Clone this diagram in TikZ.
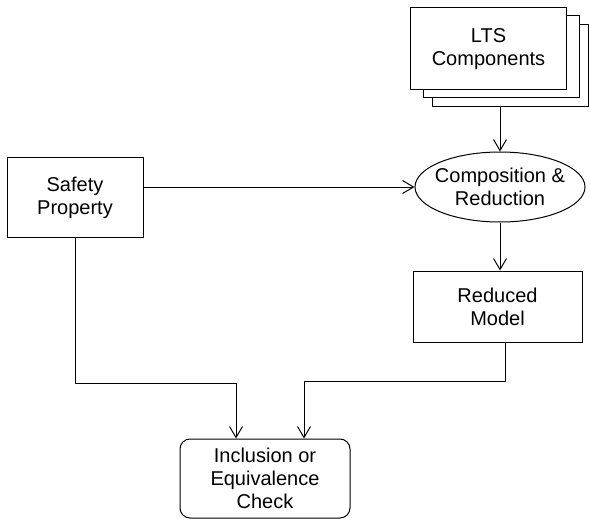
\documentclass[tikz,border=0pt]{standalone}
\usepackage{fontspec}
\setmainfont{Liberation Sans}
\usepackage{tikz}
\usetikzlibrary{arrows.meta,shapes.geometric}

\begin{document}
\begin{tikzpicture}[x=1pt,y=-1pt,
  every node/.style={font=\fontsize{20}{23}\selectfont,align=center},
  box/.style={draw,line width=1pt,fill=white,inner sep=0pt},
  arr/.style={line width=1pt,-{Straight Barb[length=11pt,width=13pt]}}]
\useasboundingbox (0,0) rectangle (590,519);

\node [box,minimum width=156,minimum height=82] (ltsC) at (510.5,66) {};
\node [box,minimum width=156,minimum height=82] (ltsB) at (501,57) {};
\node [box,minimum width=156,minimum height=82] (lts) at (488.5,49) {LTS\\Components};
\node [box,ellipse,inner sep=-8pt,minimum width=170,minimum height=70] (comp) at (500,187) {Composition \&\\Reduction};
\node [box,minimum width=136,minimum height=79] (safe) at (75,197.5) {Safety\\Property};
\node [box,minimum width=169,minimum height=71] (red) at (497.5,306.5) {Reduced\\Model};
\node [box,rounded corners=10pt,minimum width=170,minimum height=79] (incl) at (265,478.5) {Inclusion or\\Equivalence\\Check};

\coordinate (jl) at (236,383);
\coordinate (jr) at (304,381);

\draw [arr] (comp.north |- ltsC.south) -- (comp.north);
\draw [arr] (safe.east |- comp.west) -- (comp.west);
\draw [arr] (comp.south) -- (comp.south |- red.north);
\draw [arr] (safe.south) |- (jl) -- (jl |- incl.north);
\draw [arr] ([xshift=8pt]red.south) |- (jr) -- (jr |- incl.north);
\end{tikzpicture}
\end{document}
